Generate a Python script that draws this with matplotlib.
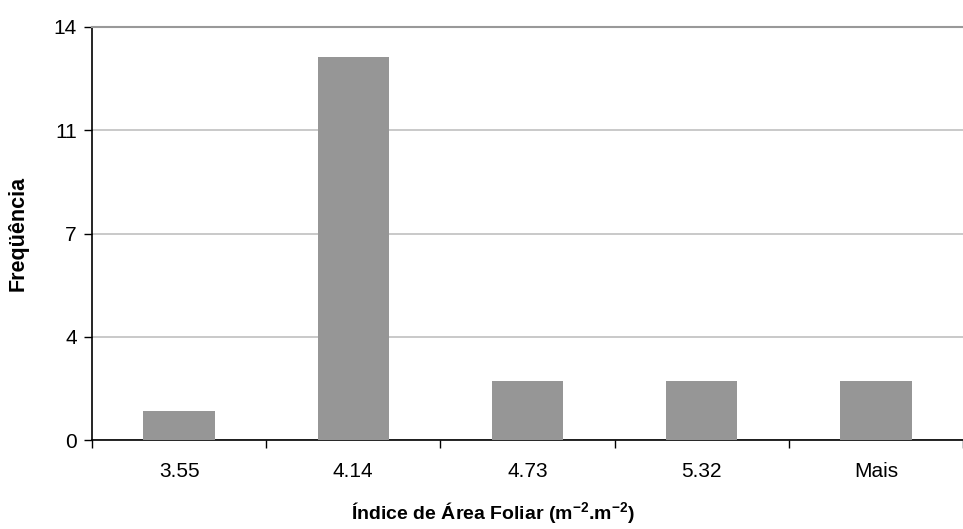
import matplotlib
matplotlib.use("Agg")
import matplotlib.pyplot as plt
import numpy as np

# Data (histogram counts)
categories = ["3.55", "4.14", "4.73", "5.32", "Mais"]
frequencies = [1, 13, 2, 2, 2]
y_ticks = [0, 3.5, 7, 10.5, 14]
y_tick_labels = ["0", "4", "7", "11", "14"]

plt.rcParams["font.family"] = ["Liberation Sans", "DejaVu Sans"]
plt.rcParams["mathtext.fontset"] = "custom"
plt.rcParams["mathtext.rm"] = "Liberation Sans"
plt.rcParams["mathtext.bf"] = "Liberation Sans:bold"

fig = plt.figure(figsize=(9.63, 5.29), dpi=100)
ax = fig.add_axes([92 / 963, 1 - 440 / 529, 1 - 92 / 963, (440 - 27) / 529])

x = np.arange(len(categories))
ax.bar(x, frequencies, width=0.41, color="#969696", zorder=3)

ax.set_xlim(-0.5, len(categories) - 0.5)
ax.set_ylim(0, 14)

# y axis
ax.set_yticks(y_ticks)
ax.set_yticklabels(y_tick_labels, fontsize=15)
ax.yaxis.grid(True, color="#c0c0c0", linewidth=1.2, zorder=0)
ax.tick_params(axis="y", direction="out", length=6, width=1, pad=5)

# x axis: category labels centred, ticks on the boundaries
ax.set_xticks(x)
ax.set_xticklabels(categories, fontsize=15)
ax.tick_params(axis="x", which="major", length=0, pad=16)
ax.set_xticks(np.arange(len(categories) + 1) - 0.5, minor=True)
ax.tick_params(axis="x", which="minor", direction="out", length=6, width=1)

ax.spines["right"].set_visible(False)
ax.spines["top"].set_color("#999999")
ax.spines["top"].set_linewidth(1.5)
ax.spines["left"].set_linewidth(1.2)
ax.spines["bottom"].set_linewidth(1.2)

ax.set_ylabel("Freqüência", fontsize=15.5, fontweight="bold", labelpad=18)
ax.set_xlabel(r"Índice de Área Foliar (m$^{\mathbf{-2}}$.m$^{\mathbf{-2}}$)",
              fontsize=14, fontweight="bold", labelpad=14, x=0.46)

fig.savefig("out.png", dpi=100)
